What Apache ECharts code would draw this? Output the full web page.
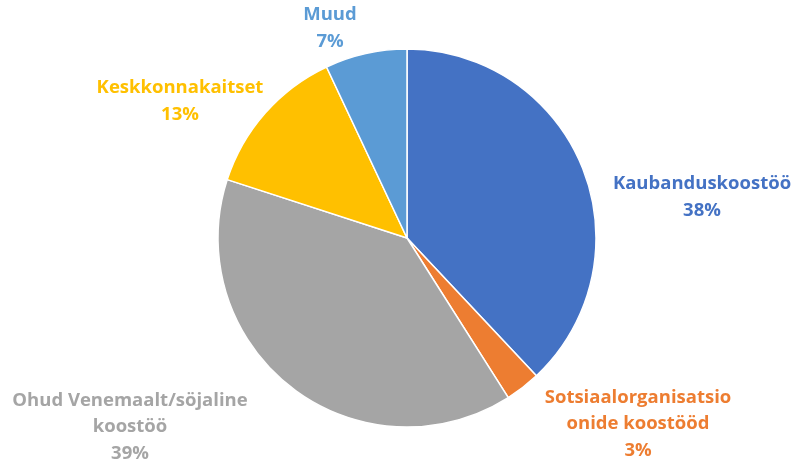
<!DOCTYPE html>
<html>
<head>
<meta charset="utf-8">
<script src="https://cdn.jsdelivr.net/npm/echarts@6/dist/echarts.min.js"></script>
<style>
  html, body { margin: 0; padding: 0; background: #fff; }
  #chart { width: 799px; height: 462px; }
</style>
</head>
<body>
<div id="chart"></div>
<script>
var categories = ['Kaubanduskoostöö', 'Sotsiaalorganisatsio\nonide koostööd', 'Ohud Venemaalt/söjaline\nkoostöö', 'Keskkonnakaitset', 'Muud'];
var values = [38, 3, 39, 13, 7];
var colors = ['#4472C4', '#ED7D31', '#A5A5A5', '#FFC000', '#5B9BD5'];
// label block centres
var labelPos = [[702, 197], [638, 424], [130, 427], [180, 101], [330, 28]];

var data = categories.map(function (name, i) {
    return {
        name: name,
        value: values[i],
        itemStyle: { color: colors[i] },
        label: { color: colors[i] }
    };
});

var chart = echarts.init(document.getElementById('chart'));
chart.setOption({
    animation: false,
    series: [{
        type: 'pie',
        center: [407, 238],
        radius: [0, 189],
        startAngle: 90,
        clockwise: true,
        itemStyle: { borderColor: '#fff', borderWidth: 1.5 },
        label: {
            show: true,
            position: 'outside',
            formatter: '{b}\n{d}%',
            fontFamily: 'Open Sans',
            fontWeight: 'bold',
            fontSize: 18.5,
            lineHeight: 26.5,
            align: 'center',
            overflow: 'none',
            width: 400
        },
        labelLine: { show: false },
        labelLayout: function (params) {
            var p = labelPos[params.dataIndex];
            return { x: p[0], y: p[1], align: 'center', verticalAlign: 'middle' };
        },
        data: data
    }]
});
</script>
</body>
</html>
